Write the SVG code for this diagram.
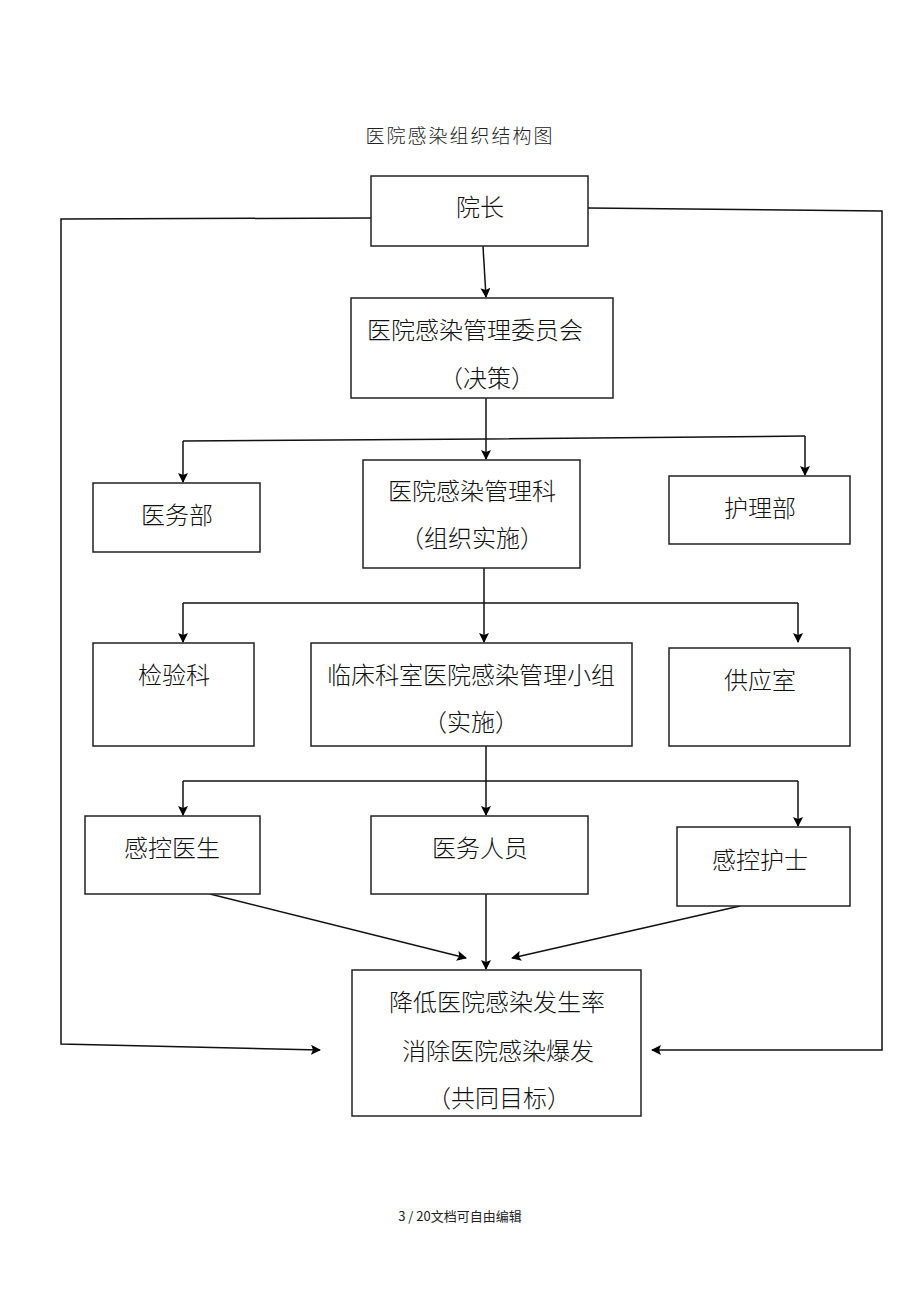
<svg xmlns="http://www.w3.org/2000/svg" width="920" height="1302" viewBox="0 0 920 1302">
<defs>
<marker id="ah" markerWidth="10" markerHeight="10" refX="9" refY="5" orient="auto" markerUnits="userSpaceOnUse">
<path d="M0,0 L10,5 L0,10 L2,5 Z" fill="#000"/>
</marker>
</defs>
<style>
.box{fill:#fff;stroke:#222;stroke-width:1.5}
.t{font-family:"Noto Sans CJK SC","Liberation Serif",serif;font-size:24px;fill:#111;text-anchor:middle;font-weight:300}
.c{fill:none;stroke:#111;stroke-width:1.5}
.a{marker-end:url(#ah)}
</style>
<rect width="920" height="1302" fill="#fff"/>
<text x="460" y="143" style="font-family:'Noto Sans CJK SC',sans-serif;font-size:19px;letter-spacing:2px;font-weight:300;fill:#222" text-anchor="middle">医院感染组织结构图</text>
<g id="connectors">
<path class="c a" d="M483,246 L486,297"/>
<path class="c a" d="M371,218 L61,219 L61,1044 L320,1050"/>
<path class="c a" d="M588,208 L882,211 L882,1050 L652,1050"/>
<path class="c a" d="M486,398 L486,459"/>
<path class="c" d="M183,441 L486,439 L805,436"/>
<path class="c a" d="M183,441 L183,482"/>
<path class="c a" d="M805,436 L805,475"/>
<path class="c a" d="M484,568 L484,642"/>
<path class="c" d="M183,603 L798,603"/>
<path class="c a" d="M183,603 L183,642"/>
<path class="c a" d="M798,603 L798,642"/>
<path class="c a" d="M486,746 L486,815"/>
<path class="c" d="M183,781 L798,781"/>
<path class="c a" d="M183,781 L183,815"/>
<path class="c a" d="M798,781 L798,826"/>
<path class="c a" d="M210,894 L466,958"/>
<path class="c a" d="M486,894 L486,969"/>
<path class="c a" d="M740,906 L512,958"/>
</g>
<g id="n_yuanzhang"><rect class="box" x="371" y="176" width="217" height="70"/><text class="t" x="480" y="216">院长</text></g>
<g id="n_weiyuanhui"><rect class="box" x="351" y="298" width="262" height="100"/><text class="t" x="475" y="339">医院感染管理委员会</text><text class="t" x="487" y="387">（决策）</text></g>
<g id="n_yiwubu"><rect class="box" x="93" y="483" width="167" height="69"/><text class="t" x="177" y="524">医务部</text></g>
<g id="n_guanlike"><rect class="box" x="363" y="460" width="217" height="108"/><text class="t" x="472" y="500">医院感染管理科</text><text class="t" x="472" y="547">（组织实施）</text></g>
<g id="n_hulibu"><rect class="box" x="669" y="476" width="181" height="68"/><text class="t" x="760" y="517">护理部</text></g>
<g id="n_jianyanke"><rect class="box" x="93" y="643" width="161" height="103"/><text class="t" x="174" y="684">检验科</text></g>
<g id="n_xiaozu"><rect class="box" x="311" y="643" width="321" height="103"/><text class="t" x="471" y="684">临床科室医院感染管理小组</text><text class="t" x="471" y="731">（实施）</text></g>
<g id="n_gongyingshi"><rect class="box" x="669" y="648" width="181" height="98"/><text class="t" x="760" y="689">供应室</text></g>
<g id="n_yisheng"><rect class="box" x="85" y="816" width="175" height="78"/><text class="t" x="172" y="857">感控医生</text></g>
<g id="n_renyuan"><rect class="box" x="371" y="816" width="217" height="78"/><text class="t" x="480" y="857">医务人员</text></g>
<g id="n_hushi"><rect class="box" x="677" y="827" width="173" height="79"/><text class="t" x="760" y="869">感控护士</text></g>
<g id="n_mubiao"><rect class="box" x="352" y="970" width="289" height="146"/><text class="t" x="497" y="1011">降低医院感染发生率</text><text class="t" x="498" y="1060">消除医院感染爆发</text><text class="t" x="499" y="1107">（共同目标）</text></g>
<text x="460" y="1221" style="font-family:'Noto Sans CJK SC',sans-serif;font-size:13px;fill:#222" text-anchor="middle">3 / 20文档可自由编辑</text>
</svg>
